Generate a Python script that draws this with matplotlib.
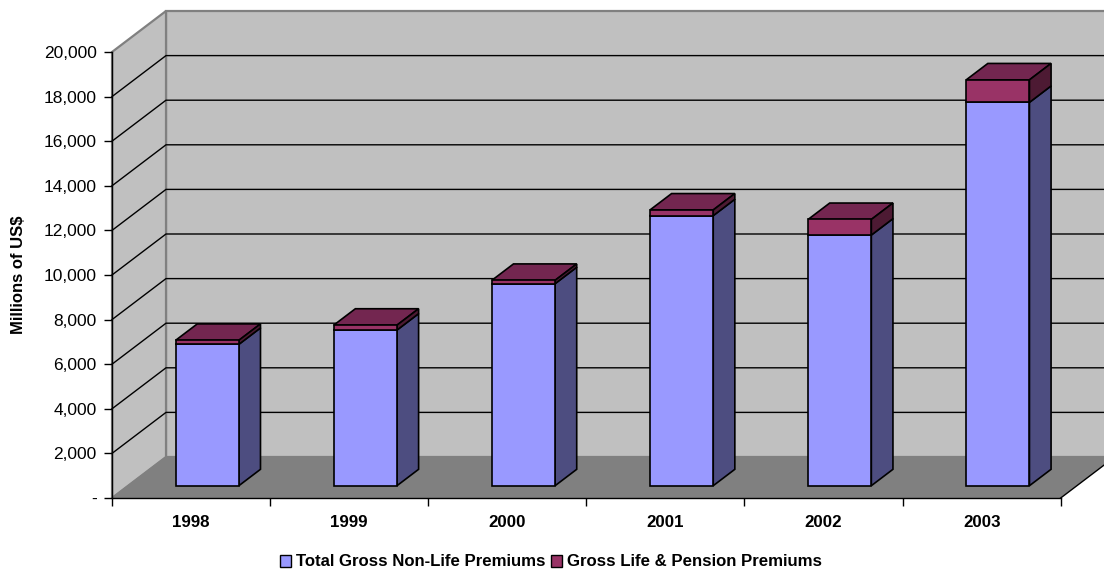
import matplotlib
matplotlib.use('Agg')
import matplotlib.pyplot as plt
from matplotlib.patches import Patch, Polygon

plt.rcParams['font.family'] = ['Liberation Sans', 'DejaVu Sans']

# Premiums in millions of US$
years = ['1998', '1999', '2000', '2001', '2002', '2003']
non_life = [6340, 6980, 9060, 12110, 11240, 17190]
life_pension = [180, 220, 150, 255, 700, 1010]
value_ticks = [0, 2000, 4000, 6000, 8000, 10000, 12000, 14000, 16000, 18000, 20000]
value_labels = ['-', '2,000', '4,000', '6,000', '8,000', '10,000', '12,000', '14,000',
                '16,000', '18,000', '20,000']

# Oblique offset of the back wall, in data units
DEPTH_X = 54 / 158.1
DEPTH_V = 41 / 446 * 20000
BAR_WIDTH = 0.4
BAR_NEAR = 0.3
BAR_FAR = 0.7

WALL = '#C0C0C0'
WALL_EDGE = '#808080'
FLOOR = '#808080'
NON_LIFE_COLORS = ('#9999FF', '#4D4D80', '#7373BF')
LIFE_COLORS = ('#993366', '#4D1A33', '#732650')


def proj(x, v, d):
    return (x + d * DEPTH_X, v + d * DEPTH_V)


def face(ax, points, color, edge='black', lw=1.2, z=3):
    ax.add_patch(Polygon(points, closed=True, facecolor=color, edgecolor=edge,
                         linewidth=lw, joinstyle='miter', clip_on=False, zorder=z))


def draw_block(ax, x0, x1, v0, v1, colors, z):
    front = [proj(x0, v0, BAR_NEAR), proj(x1, v0, BAR_NEAR), proj(x1, v1, BAR_NEAR), proj(x0, v1, BAR_NEAR)]
    side = [proj(x1, v0, BAR_NEAR), proj(x1, v0, BAR_FAR), proj(x1, v1, BAR_FAR), proj(x1, v1, BAR_NEAR)]
    top = [proj(x0, v1, BAR_NEAR), proj(x1, v1, BAR_NEAR), proj(x1, v1, BAR_FAR), proj(x0, v1, BAR_FAR)]
    face(ax, top, colors[2], z=z)
    face(ax, side, colors[1], z=z)
    face(ax, front, colors[0], z=z)


fig = plt.figure(figsize=(11.04, 5.70), dpi=100)
ax = fig.add_axes([112 / 1104, 1 - 498 / 570, 948.7 / 1104, 446 / 570])
ax.set_xlim(0, 6)
ax.set_ylim(0, 20000)
ax.patch.set_visible(False)

# Back wall, side wall and floor
n = len(years)
face(ax, [proj(0, 0, 1), proj(n, 0, 1), proj(n, 20000, 1), proj(0, 20000, 1)], WALL, edge=WALL_EDGE, lw=1.6, z=0.5)
face(ax, [proj(0, 0, 0), proj(0, 0, 1), proj(0, 20000, 1), proj(0, 20000, 0)], WALL, edge=WALL_EDGE, lw=1.6, z=0.6)

# Gridlines run along the side wall and across the back wall
for v in value_ticks[1:-1]:
    pts = [proj(0, v, 0), proj(0, v, 1), proj(n, v, 1)]
    ax.plot([p[0] for p in pts], [p[1] for p in pts], color='black', lw=1.0, clip_on=False, zorder=0.8)

face(ax, [proj(0, 0, 0), proj(n, 0, 0), proj(n, 0, 1), proj(0, 0, 1)], FLOOR, edge='none', lw=0, z=1)
left_edge = [proj(0, 0, 0), proj(0, 0, 1)]
ax.plot([p[0] for p in left_edge], [p[1] for p in left_edge], color=WALL_EDGE, lw=1.0, clip_on=False, zorder=1.1)
right_edge = [proj(n, 0, 0), proj(n, 0, 1)]
ax.plot([p[0] for p in right_edge], [p[1] for p in right_edge], color='black', lw=1.0, clip_on=False, zorder=1.1)

# Stacked bars, left to right
for i in range(n):
    x0 = i + 0.5 - BAR_WIDTH / 2
    x1 = i + 0.5 + BAR_WIDTH / 2
    draw_block(ax, x0, x1, 0, non_life[i], NON_LIFE_COLORS, 3 + i * 0.1)
    draw_block(ax, x0, x1, non_life[i], non_life[i] + life_pension[i], LIFE_COLORS, 3.05 + i * 0.1)

for side in ['top', 'right']:
    ax.spines[side].set_visible(False)
for side in ['left', 'bottom']:
    ax.spines[side].set_linewidth(1.0)
    ax.spines[side].set_zorder(2)

ax.set_yticks(value_ticks)
ax.set_yticklabels(value_labels, fontsize=12.5)
ax.tick_params(axis='y', length=6, width=1.0, pad=5)

ax.set_xticks(range(n + 1))
ax.set_xticklabels([])
ax.set_xticks([i + 0.5 for i in range(n)], minor=True)
ax.set_xticklabels(years, minor=True, fontsize=12.2, fontweight='bold')
ax.tick_params(axis='x', which='major', length=5.5, width=1.0)
ax.tick_params(axis='x', which='minor', length=0, pad=12)

ax.set_ylabel('Millions of US$', fontsize=12, fontweight='bold')
ax.yaxis.set_label_coords(-0.0905, 0.5)

handles = [Patch(facecolor=NON_LIFE_COLORS[0], edgecolor='black', linewidth=1.0),
           Patch(facecolor=LIFE_COLORS[0], edgecolor='black', linewidth=1.0)]
fig.legend(handles, ['Total Gross Non-Life Premiums', 'Gross Life & Pension Premiums'],
           loc='center', bbox_to_anchor=(551 / 1104, 1 - 562 / 570), ncol=2, frameon=False,
           prop={'size': 12.1, 'weight': 'bold'}, handlelength=0.65, handleheight=0.7,
           handletextpad=0.3, columnspacing=0.35, borderpad=0, borderaxespad=0)

fig.savefig('out.png', dpi=100)
